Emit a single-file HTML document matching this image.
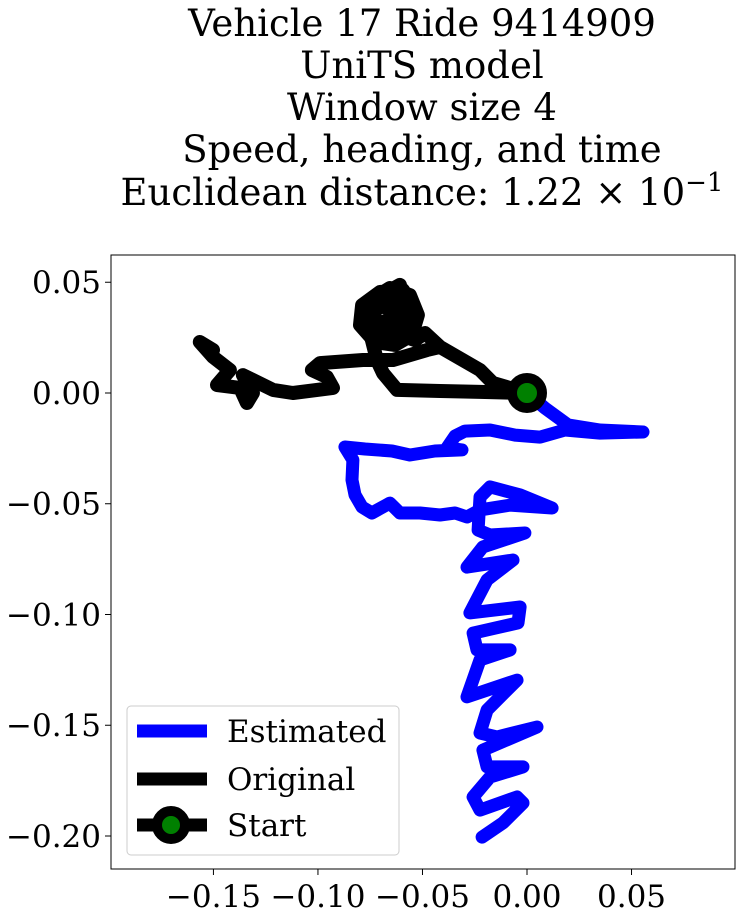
<!DOCTYPE html>
<html><head><meta charset="utf-8"><style>
body{margin:0;background:#fff}
svg{display:block;font-family:"DejaVu Serif","Liberation Serif",serif}
</style></head><body>
<svg id="chart" width="739" height="917">
<g font-size="37" text-anchor="middle" fill="#000">
<text x="422" y="36">Vehicle 17 Ride 9414909</text>
<text x="422" y="78">UniTS model</text>
<text x="422" y="120">Window size 4</text>
<text x="422" y="162">Speed, heading, and time</text>
<text x="422" y="205">Euclidean distance: 1.22 × 10<tspan dy="-14" font-size="26">−1</tspan></text>
</g>
<g id="plot"></g>
</svg>
<script>
const xTicks=[-0.15,-0.10,-0.05,0.00,0.05];
const xTickLabels=["−0.15","−0.10","−0.05","0.00","0.05"];
const yTicks=[0.05,0.00,-0.05,-0.10,-0.15,-0.20];
const yTickLabels=["0.05","0.00","−0.05","−0.10","−0.15","−0.20"];
const estX=[0,.0086,.0196,.0349,.0555,.0349,.0182,.0062,-.0057,-.0177,-.0297,-.0344,-.0383,-.0311,-.0440,-.0560,-.0646,-.0775,-.0871,-.0833,-.0837,-.0823,-.0789,-.0742,-.0656,-.0608,-.0512,-.0416,-.0344,-.0287,-.0225,-.0081,.0120,-.0033,-.0177,-.0225,-.0234,-.0177,-.0010,-.0211,-.0287,-.0067,-.0191,-.0273,-.0033,-.0043,-.0258,-.0239,-.0081,-.0225,-.0287,-.0048,-.0191,-.0225,-.0144,.0048,-.0211,-.0191,-.0019,-.0177,-.0258,-.0225,-.0048,-.0019,-.0115,-.0215];
const estY=[0,-.0068,-.0144,-.0167,-.0176,-.0181,-.0167,-.0199,-.0190,-.0167,-.0172,-.0194,-.0248,-.0257,-.0262,-.0280,-.0262,-.0253,-.0244,-.0302,-.0393,-.0460,-.0515,-.0542,-.0497,-.0542,-.0542,-.0551,-.0542,-.0560,-.0528,-.0506,-.0519,-.0460,-.0424,-.0470,-.0619,-.0641,-.0632,-.0695,-.0786,-.0754,-.0844,-.0993,-.0966,-.1038,-.1084,-.1160,-.1160,-.1205,-.1372,-.1296,-.1431,-.1535,-.1553,-.1508,-.1612,-.1688,-.1688,-.1734,-.1824,-.1883,-.1824,-.1851,-.1941,-.2005];
const origX=[0,-.0225,-.0416,-.0622,-.0689,-.0718,-.0742,-.0775,-.0751,-.0656,-.0560,-.0522,-.0550,-.0632,-.0727,-.0799,-.0789,-.0703,-.0593,-.0536,-.0560,-.0656,-.0742,-.0727,-.0632,-.0569,-.0608,-.0536,-.0608,-.0679,-.0584,-.0574,-.0646,-.0742,-.0761,-.0679,-.0632,-.0689,-.0536,-.0488,-.0416,-.0225,-.0163,0,-.0163,-.0225,-.0416,-.0478,-.0641,-.0785,-.0990,-.1029,-.0957,-.0928,-.1120,-.1215,-.1359,-.1311,-.1340,-.1373,-.1483,-.1421,-.1502,-.1565,-.1502];
const origY=[0,.0005,.0009,.0014,.0090,.0149,.0239,.0330,.0420,.0474,.0442,.0352,.0262,.0217,.0230,.0307,.0397,.0456,.0465,.0384,.0284,.0239,.0284,.0375,.0420,.0339,.0262,.0239,.0488,.0451,.0420,.0330,.0271,.0307,.0384,.0397,.0339,.0321,.0239,.0271,.0208,.0104,.0045,0,.0045,.0104,.0208,.0194,.0149,.0149,.0135,.0104,.0072,.0023,0,.0014,.0081,0,-.0045,.0023,.0036,.0104,.0163,.0230,.0194];
const startPt=[0,0];
const L=111,R=735,T=255,B=869,x0=-0.199,x1=0.0995,y0=-0.2149,y1=0.0623;
const sx=v=>L+(v-x0)/(x1-x0)*(R-L), sy=v=>B-(v-y0)/(y1-y0)*(B-T);
const NS="http://www.w3.org/2000/svg", g=document.getElementById('plot');
function mk(t,a,p){const e=document.createElementNS(NS,t);for(const k in a)e.setAttribute(k,a[k]);(p||g).appendChild(e);return e;}
const clip=mk('clipPath',{id:'cp'});mk('rect',{x:L,y:T,width:R-L,height:B-T},clip);
const pts=(X,Y)=>X.map((v,i)=>sx(v).toFixed(1)+','+sy(Y[i]).toFixed(1)).join(' ');
const pe=mk('polyline',{points:pts(estX,estY),fill:'none',stroke:'#0000ff','stroke-width':13,'stroke-linejoin':'round','stroke-linecap':'round','clip-path':'url(#cp)'});


const po=mk('polyline',{points:pts(origX,origY),fill:'none',stroke:'#000','stroke-width':14,'stroke-linejoin':'round','stroke-linecap':'round','clip-path':'url(#cp)'});


const sm=mk('circle',{cx:sx(startPt[0]),cy:sy(startPt[1]),r:15,fill:'green',stroke:'#000','stroke-width':10});


const fr=mk('rect',{x:L,y:T,width:R-L,height:B-T,fill:'none',stroke:'#000','stroke-width':1});


xTicks.forEach((v,i)=>{const x=sx(v);
 const tk=mk('line',{x1:x,x2:x,y1:B,y2:B+6,stroke:'#000'});
 
 
 const t=mk('text',{x:x,y:B+38,'font-size':31,'text-anchor':'middle'});t.textContent=xTickLabels[i];
 
 });
yTicks.forEach((v,i)=>{const y=sy(v);
 const tk=mk('line',{x1:L-6,x2:L,y1:y,y2:y,stroke:'#000'});
 
 
 const t=mk('text',{x:L-10,y:y+11,'font-size':31,'text-anchor':'end'});t.textContent=yTickLabels[i];
 
 });
const lg=mk('g',{});


mk('rect',{x:127,y:706,width:272,height:149,rx:4,fill:'#fff','fill-opacity':0.85,stroke:'#ccc'},lg);
[['Estimated','#0000ff',731],['Original','#000',779],['Start','#000',825]].forEach(([n,c,y],i)=>{
 const e=mk('g',{},lg);
 
 
 mk('line',{x1:137,x2:207,y1:y,y2:y,stroke:c,'stroke-width':13},e);
 if(i==2)mk('circle',{cx:171,cy:y,r:14,fill:'green',stroke:'#000','stroke-width':10},e);
 const t=mk('text',{x:227,y:y+11,'font-size':31},e);t.textContent=n;});
</script>
</body></html>
